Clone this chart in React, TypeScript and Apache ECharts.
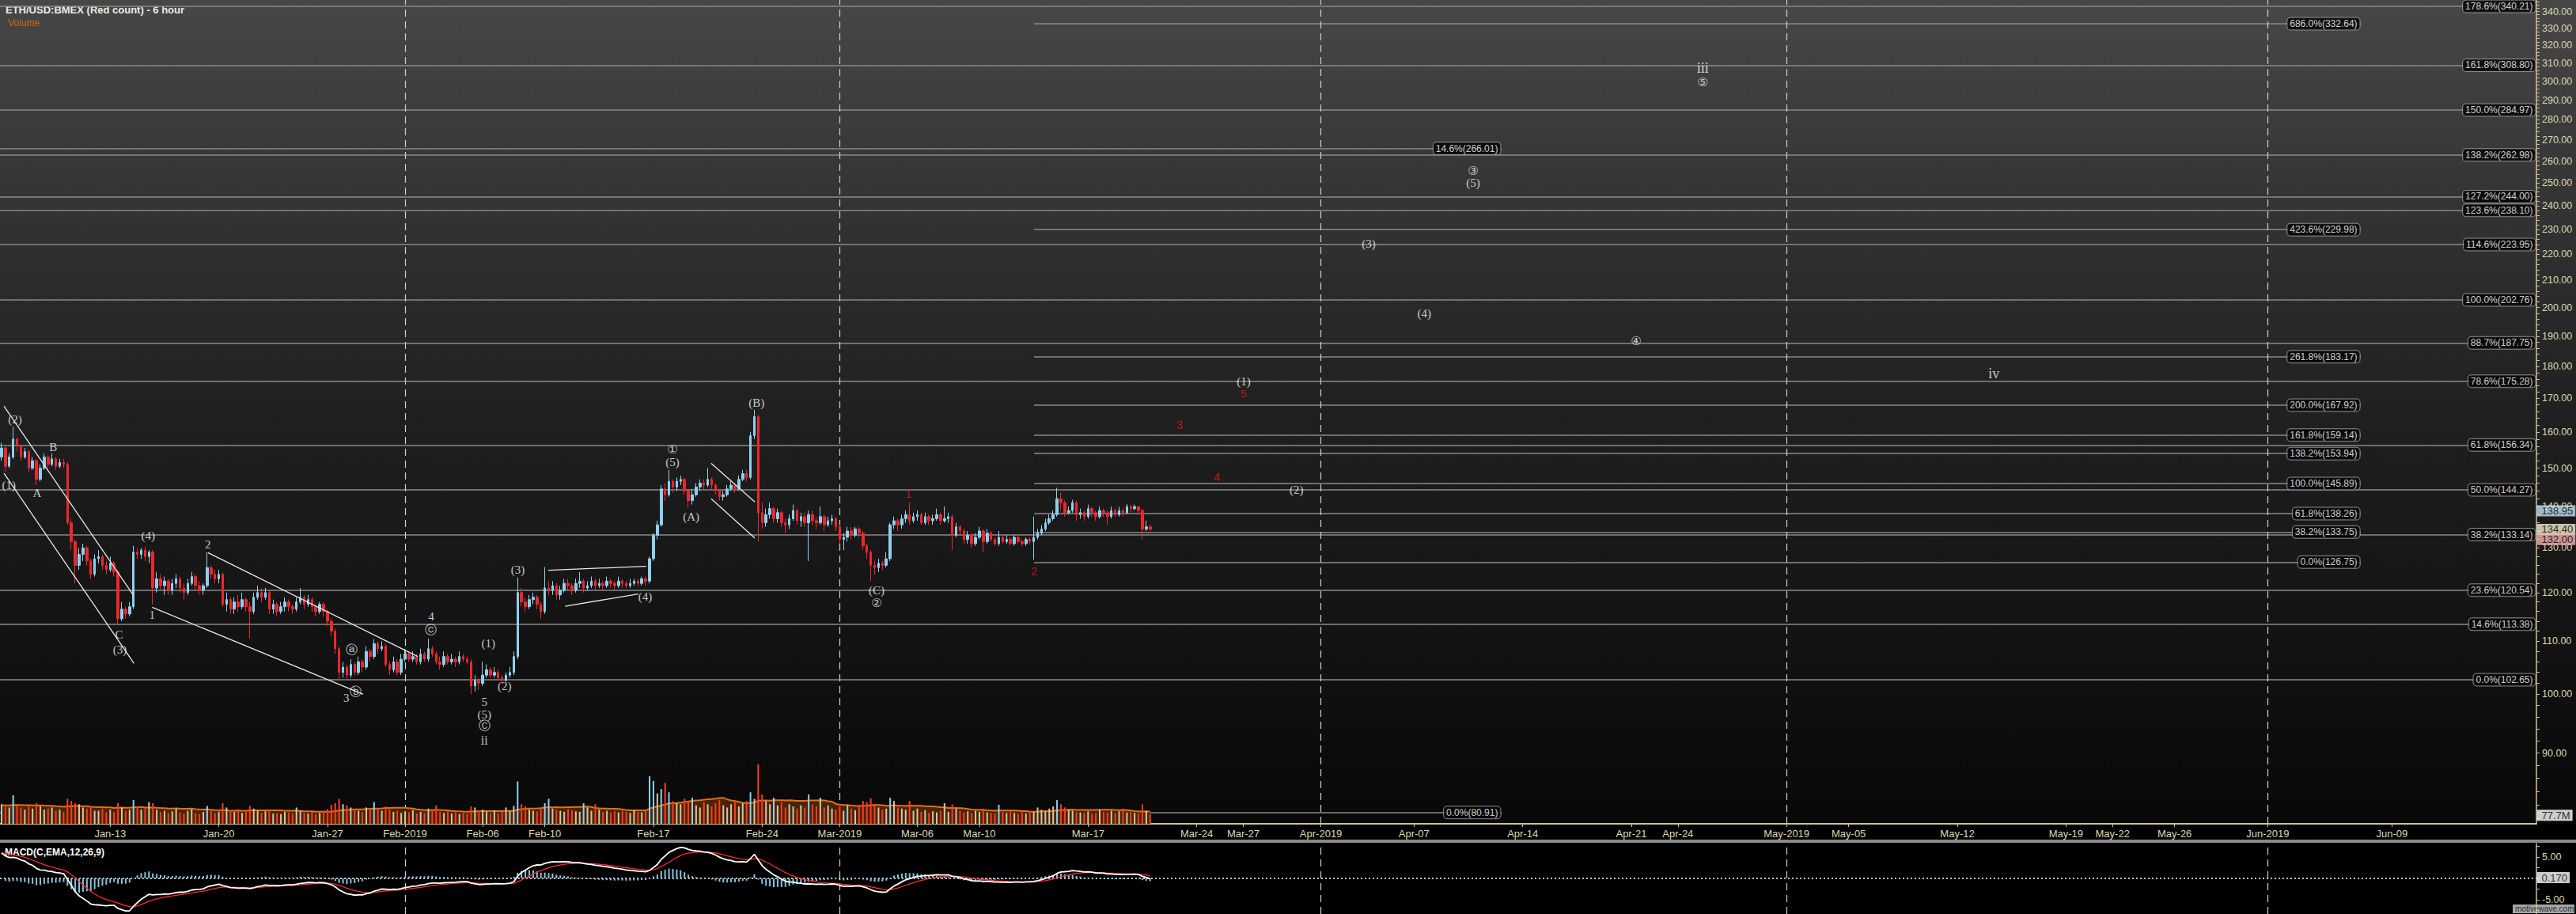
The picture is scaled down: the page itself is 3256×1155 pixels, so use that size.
import React, { useEffect, useRef } from "react";
import * as echarts from "echarts";

const WIDTH = 3256;
const HEIGHT = 1155;

// ---------------- data ----------------
const BAR_START = "2019-01-06T00:00";
const BAR_HOURS = 6;
const FIRST_OPEN = 153;

const closes = [
  155.5,150.5,153,158,156,153,154.5,150,152,147,
  150,153,151,152.5,150.5,151.5,151,136,131.5,126,
  128.5,130,127,124,127.5,128,126,125,126.5,124.5,
  114.5,116.5,115.5,117,129,128.5,129.5,128,129,121,
  123,121.5,122.5,120.5,122,123,121,120,122,123.5,
  121.5,120.5,121.5,125.5,124,123,124,117.5,118.5,116.5,
  118,117,118.5,117,116,119,120,119,120,116.5,
  117.5,116,117,118,117,116.5,118,119,117.5,118.5,
  117,116,117.5,116,114,112,108.5,104,105,103.5,
  105.5,104,106,105,108,107,109.5,108.5,109,105.5,
  104.5,106,104,106.5,107.5,106.5,107,106,107.5,106.5,
  108.5,107.5,106,105.5,107,106,106.5,106,107,106.5,
  106,101.5,102.5,102,103.5,104.5,103.5,104,103,102.5,
  103.5,104,107,120,118,117,118.5,119,117.5,116,
  121,120.5,121.5,119.5,120.5,122,121.5,120.5,122,122.5,
  121,121.5,122.5,121.5,122,121.5,122.5,122,121.5,122.5,
  122,121.5,122,122.5,122,123,122.5,127.5,133,135.5,
  144.5,143,146.5,145,146.5,147,144,141.5,143,145,
  146,145.5,147,145.5,144,142.5,143,144.5,145.5,144.5,
  147,148.5,147.5,159,164.5,138.5,136,138,139.5,137,
  138.5,136,135.5,137,139,136.5,137.5,136,138,136.5,
  136,137.5,135.5,136.5,137,135,132,132.5,134,133,
  134.5,133.5,130.5,129,126,125.5,126.5,126,127.5,135.5,
  136.5,135.5,137,138,136.5,137.5,138,136,137.5,136.5,
  137,138,136.5,137,137.5,133,135,134,132,133,
  131,132.5,134,131.5,133.5,132,131,132.5,131.5,132,
  131,132.5,131.5,131,132,131.5,132.5,133.5,134.5,136,
  137,138,142,141,138.5,139,141,138,138.5,137.5,
  139.5,138.5,137.5,139,138.5,137.5,139,138,139,138.5,
  140,139.5,140,139,134.5,135,134.4,
];

const highs = [
  157,156,154,161.5,158.5,156.5,155.5,155,153,152.5,
  151,154,153.5,154,153,152.5,152.5,151.5,137,132,
  130,131,130.5,127.5,128.5,129.5,128.5,127,128,127,
  125,118,117,118,130.5,130,130,130.3,129.5,129.5,
  124.5,124,123.5,123,123,124,123.5,122,123,124.5,
  124,122.5,122,129,126,125,125,124.5,120,119,
  119,119.5,120,119,118,120,121.5,121,121,120.5,
  118.5,118,118,119,118.5,117.5,119,121,119.5,119.5,
  119,117.5,118,118,116.5,114.5,112.5,109,106,105.5,
  106.5,106,107,106.5,109,108.5,110.4,110,110,109.5,
  106,107,106.5,107.5,108.5,108,108,107.5,108.5,108,
  110.5,109,108,107,108,107.5,107.5,107,108,107.5,
  107,106.5,103.5,103,106,105.5,105,105,104.5,103.5,
  104,105,108,123.3,121,119,119.5,120,119.5,118,
  125.6,122.5,122.5,122,121.5,123,123,122,123,124.5,
  123,122.5,123.5,123,123,122.5,123.5,123,122.5,123.5,
  123,122.5,123,123,123,123.5,123.5,128,133.5,136.5,
  145.5,146,149.5,147,147.5,148,147.5,144.5,144.5,146,
  147,147,150,147.5,146,144.5,144,145.5,146.5,146,
  148,149.5,149.5,160,166.5,165,141,139.5,141,140,
  139.5,139,137,138,140.5,139.5,138.5,138.5,139,139,
  137.5,140,138,137.5,138,137.5,135.5,133.5,135,135,
  135,135,134,131,129.5,127,127.5,127,129,136,
  137.5,137,138,139,141,138.5,139,138.5,138.5,138,
  138,139.5,138.5,140,138.5,138,136,135.5,134.5,134,
  133.5,133.5,135,134.5,134.5,134,132.5,134,133,133,
  132.5,133,133,132,132.5,132.5,137.5,134.5,135.5,137,
  138,139,144.8,143.5,141.5,140,141.7,141.5,139.5,139,
  140.5,140,139,140,139.5,139,140,139.5,140,139.5,
  140.7,140.5,140.5,140,139.5,136.5,135.5,
];

const lows = [
  152,149,150,152.5,154.5,152,152.5,149,149.5,145.5,
  146.5,149.5,150,150.5,149.5,150,150,135.5,129.5,122,
  125,127,126,123,123.5,126.5,125,124,124.5,123.5,
  113.3,114,114.5,115,116.5,127.5,127.5,127,126.5,117.5,
  120,120.5,119.5,119.5,119.5,121,120,118.5,119.5,121.5,
  120.5,119.5,119.5,121,123,122,122,117,116,115.5,
  115.5,116,116.5,116,110.5,115.5,118.5,118,118.5,115.5,
  115.5,115,115.5,116,116,115.5,116,117.5,116.5,117,
  116,115,115.5,115,113,111,107.5,102.5,103,102.8,
  103,103.5,103.5,104,104.5,106,106.5,107.5,108,105,
  103.5,104,103.5,103.5,106,106,106,105.5,105.5,106,
  106,107,105.5,104.5,105,105.5,105.5,105,105.5,106,
  105.5,100,100.5,100.8,101.5,103,103,103,102.5,102,
  102.3,103,103.5,106.5,117,116,116.5,117.5,116.5,114.5,
  115.5,119.5,119.5,118.5,118.5,120,120.5,119.5,120,121,
  120,120.5,121,120.5,121,120.5,121,121,120.5,121,
  121,121,121,121.5,121.3,121.5,121.5,122,127,132,
  135,141.5,142.5,143.5,144,145.5,143,139.8,140.5,142.5,
  144,144.5,145,144.5,143,141.5,141.5,142.5,144,143.5,
  144,146.5,146.5,147,158,131.5,134.5,135,137,136,
  136,135,133.5,134.5,136.5,135.5,135,135,127,135.5,
  134.5,135.5,134,135,135.5,134,131,129.5,131.5,132,
  132.5,132.5,129.5,127.5,122.5,124,124.5,125,125.5,127,
  134.5,134,134.5,136,135.5,136,136.5,135.5,135.5,135.5,
  135.5,136.5,135.5,136,136,129.5,132.5,133,131,131,
  130,130.5,132,129,131,131.5,130.5,130.5,131,131,
  130.5,130.5,131,130.5,130.5,130.8,127.3,132,133,134,
  135.5,136.5,137.5,139,137.5,138,138.5,136.5,137,136.5,
  137,137.5,136.5,137,137.5,135.5,137,137.5,137.5,137.5,
  138,138.5,139,138,132,134,134,
];

// volume in millions
const volumes = [
  180,160,150,263,170,150,130,170,140,190,160,130,140,150,120,130,110,
  230,210,190,180,150,140,160,120,120,140,110,130,110,
  190,150,120,130,220,160,130,140,200,190,
  130,110,120,100,115,140,105,95,120,135,100,90,110,165,120,100,110,
  190,150,120,110,135,100,110,165,140,120,100,115,130,95,100,90,110,105,95,150,120,100,95,110,90,100,115,135,175,
  190,230,180,170,150,135,120,110,150,130,200,140,120,160,
  130,110,120,100,115,105,125,95,110,100,140,120,170,110,100,115,95,105,90,100,95,160,150,120,130,115,100,125,95,110,150,120,165,
  390,180,160,130,120,115,150,190,230,140,130,120,110,135,125,115,110,190,150,120,180,130,110,120,100,115,105,120,110,100,125,110,105,115,
  438,394,280,320,377,290,210,190,180,230,205,240,170,150,200,180,160,190,220,170,150,180,200,160,190,210,290,230,548,
  270,210,180,240,170,200,150,180,160,140,170,150,270,180,160,240,150,170,140,130,160,120,170,140,125,170,210,200,235,180,150,130,140,
  240,210,150,140,130,210,120,140,110,125,100,115,105,120,190,110,180,140,120,105,115,100,120,110,140,105,100,95,175,110,100,115,
  100,90,105,95,120,110,150,130,120,140,160,220,180,150,130,120,110,105,100,115,95,100,130,110,105,120,100,115,140,105,110,100,95,180,120,90,
];
const blueVolumeBars = [3, 34, 53, 96, 133, 140, 141, 150, 167, 168, 170, 172, 178, 193, 199, 208, 218, 229, 257, 272];
const VOLUME_MA_LEN = 20;
const VOLUME_MA_SEED = 170;
const VOLUME_TAG = 77.7;

const MACD_SEED_EMA12 = 153.0;
const MACD_SEED_EMA26 = 146.8;
const MACD_SEED_SIGNAL = 6.0;
const MACD_TAG = 0.17;

const X_MIN = "2019-01-05T21:39";
const X_MAX = "2019-06-18T07:26";
const PRICE_MIN = 79.29;
const PRICE_MAX = 347.1;
const MACD_MIN = -8.33;
const MACD_MAX = 8.15;
const VOLUME_AXIS_MAX = 700;

const dateTicks = [
  "2019-01-13","2019-01-20","2019-01-27","2019-02-01","2019-02-06","2019-02-10","2019-02-17","2019-02-24",
  "2019-03-01","2019-03-06","2019-03-10","2019-03-17","2019-03-24","2019-03-27","2019-04-01","2019-04-07",
  "2019-04-14","2019-04-21","2019-04-24","2019-05-01","2019-05-05","2019-05-12","2019-05-19","2019-05-22",
  "2019-05-26","2019-06-01","2019-06-09",
];
const dateTickLabels = [
  "Jan-13","Jan-20","Jan-27","Feb-2019","Feb-06","Feb-10","Feb-17","Feb-24",
  "Mar-2019","Mar-06","Mar-10","Mar-17","Mar-24","Mar-27","Apr-2019","Apr-07",
  "Apr-14","Apr-21","Apr-24","May-2019","May-05","May-12","May-19","May-22",
  "May-26","Jun-2019","Jun-09",
];
const monthStarts = ["2019-02-01", "2019-03-01", "2019-04-01", "2019-05-01", "2019-06-01"];

const priceLabelValues = [90,100,110,120,130,140,150,160,170,180,190,200,210,220,230,240,250,260,270,280,290,300,310,320,330,340];
const priceTickValues = [
  80,82,84,86,88,90,92,94,96,98,100,102,104,106,108,110,112,114,116,118,120,122,124,126,128,130,
  132,134,136,138,140,142,144,146,148,150,152,154,156,158,160,162,164,166,168,170,172,174,176,178,180,
  182,184,186,188,190,192,194,196,198,200,202,204,206,208,210,212,214,216,218,220,222,224,226,228,230,
  232,234,236,238,240,242,244,246,248,250,252,254,256,258,260,262,264,266,268,270,272,274,276,278,280,
  282,284,286,288,290,292,294,296,298,300,302,304,306,308,310,312,314,316,318,320,322,324,326,328,330,
  332,334,336,338,340,342,344,346,
];
const macdLabelValues = [-5, 5];
const macdTickValues = [-7.5, -5, -2.5, 0, 2.5, 5, 7.5];

// Fibonacci tools: [label, price level]
const fibMainLevels: [string, number][] = [
  ["178.6%(340.21)", 343.2],
  ["161.8%(308.80)", 308.8],
  ["150.0%(284.97)", 284.97],
  ["138.2%(262.98)", 262.98],
  ["127.2%(244.00)", 244.0],
  ["123.6%(238.10)", 238.1],
  ["114.6%(223.95)", 223.95],
  ["100.0%(202.76)", 202.76],
  ["88.7%(187.75)", 187.75],
  ["78.6%(175.28)", 175.28],
  ["61.8%(156.34)", 156.34],
  ["50.0%(144.27)", 144.27],
  ["38.2%(133.14)", 133.14],
  ["23.6%(120.54)", 120.54],
  ["14.6%(113.38)", 113.38],
  ["0.0%(102.65)", 102.65],
];
const fibMainStart = X_MIN;
const fibMainEnd = X_MAX;

const fibExtLevels: [string, number][] = [
  ["686.0%(332.64)", 332.64],
  ["423.6%(229.98)", 229.98],
  ["261.8%(183.17)", 183.17],
  ["200.0%(167.92)", 167.92],
  ["161.8%(159.14)", 159.14],
  ["138.2%(153.94)", 153.94],
  ["100.0%(145.89)", 145.89],
  ["61.8%(138.26)", 138.26],
  ["38.2%(133.75)", 133.75],
  ["0.0%(126.75)", 126.75],
];
const fibExtStart = "2019-03-13T12:30";
const fibExtEnd = "2019-06-07T00:00";

const fibWideLevels: [string, number][] = [
  ["14.6%(266.01)", 266.01],
  ["0.0%(80.91)", 80.91],
];
const fibWideStart = X_MIN;
const fibWideEnd = "2019-04-12T15:22";

// price tags on the right axis: [value, background]
const priceTags: [number, string][] = [
  [138.95, "#bfe3f5"],
  [134.4, "#f4efcf"],
  [132.0, "#f5b5b5"],
];

// Elliott wave labels: [time, price, text, colour kind, size]
const waveLabels: [string, number, string, string, number][] = [
  ["2019-01-06T20:45", 163.7, "(2)", "w", 15],
  ["2019-01-09T07:58", 155.8, "B", "w", 15],
  ["2019-01-06T11:21", 145.4, "(1)", "w", 15],
  ["2019-01-08T07:02", 143.5, "A", "w", 15],
  ["2019-01-13T13:45", 111.3, "C", "w", 15],
  ["2019-01-13T14:59", 108.3, "(3)", "w", 15],
  ["2019-01-15T10:38", 132.8, "(4)", "w", 15],
  ["2019-01-15T16:52", 115.3, "1", "w", 15],
  ["2019-01-19T07:08", 130.9, "2", "w", 15],
  ["2019-01-28T05:11", 99.4, "3", "w", 15],
  ["2019-01-28T13:52", 108.4, "ⓐ", "w", 15],
  ["2019-01-28T20:07", 100.5, "ⓑ", "w", 15],
  ["2019-02-02T16:12", 114.9, "4", "w", 15],
  ["2019-02-02T16:12", 112.2, "ⓒ", "w", 15],
  ["2019-02-06T02:31", 98.7, "5", "w", 15],
  ["2019-02-06T02:31", 96.5, "(5)", "w", 15],
  ["2019-02-06T02:31", 94.6, "Ⓒ", "w", 15],
  ["2019-02-06T02:31", 92.1, "ii", "w", 16],
  ["2019-02-06T08:46", 109.5, "(1)", "w", 15],
  ["2019-02-07T09:50", 101.5, "(2)", "w", 15],
  ["2019-02-08T06:22", 125.0, "(3)", "w", 15],
  ["2019-02-16T11:21", 119.2, "(4)", "w", 15],
  ["2019-02-18T05:25", 155.1, "①", "w", 15],
  ["2019-02-18T05:25", 151.7, "(5)", "w", 15],
  ["2019-02-19T10:25", 137.4, "(A)", "w", 15],
  ["2019-02-23T15:26", 168.6, "(B)", "w", 15],
  ["2019-03-03T09:00", 120.5, "(C)", "w", 15],
  ["2019-03-03T09:00", 117.8, "②", "w", 15],
  ["2019-03-05T10:10", 143.4, "1", "r", 15],
  ["2019-03-13T12:33", 124.7, "2", "r", 15],
  ["2019-03-22T21:30", 162.1, "3", "r", 15],
  ["2019-03-25T07:22", 147.7, "4", "r", 15],
  ["2019-03-27T00:29", 175.2, "(1)", "w", 15],
  ["2019-03-27T00:29", 171.3, "5", "r", 13],
  ["2019-03-30T10:18", 144.2, "(2)", "w", 15],
  ["2019-04-04T01:55", 224.2, "(3)", "w", 15],
  ["2019-04-07T15:50", 197.9, "(4)", "w", 15],
  ["2019-04-10T19:26", 255.6, "③", "w", 15],
  ["2019-04-10T19:26", 250.2, "(5)", "w", 15],
  ["2019-04-21T07:26", 188.4, "④", "w", 15],
  ["2019-04-25T14:24", 307.3, "iii", "w", 18],
  ["2019-04-25T14:24", 299.4, "⑤", "w", 15],
  ["2019-05-14T08:38", 177.6, "iv", "w", 18],
];

// Trend / channel lines: [startTime, startPrice, endTime, endPrice]
const trendLines: [string, number, string, number][] = [
  ["2019-01-06T03:53", 167.6, "2019-01-14T11:40", 119.5],
  ["2019-01-06T03:53", 148.6, "2019-01-14T12:53", 105.7],
  ["2019-01-19T07:08", 128.9, "2019-02-01T19:31", 107.0],
  ["2019-01-15T16:52", 116.9, "2019-01-29T07:08", 100.0],
  ["2019-02-10T05:14", 124.9, "2019-02-16T12:58", 125.8],
  ["2019-02-11T07:26", 117.1, "2019-02-16T00:29", 119.7],
  ["2019-02-20T17:17", 151.3, "2019-02-23T12:43", 141.2],
  ["2019-02-20T17:17", 142.0, "2019-02-23T12:43", 132.3],
];

// ---------------- helpers ----------------
const SANS = "'Liberation Sans', Arial, sans-serif";
const SERIF = "'Liberation Serif', 'Times New Roman', 'DejaVu Sans', serif";
const L = (p: number) => Math.log(p);
const T = (s: string) => Date.parse(s.length <= 10 ? s + "T00:00:00Z" : s + ":00Z");

const UP = "#8fd0ee";
const DOWN = "#f0262c";
const AXIS_COL = "#c9c3a0";
const AXIS_TXT = "#dcd6b0";
const FIB_COL = "#8a8a8a";

function buildOption() {
  const barMs = BAR_HOURS * 3600 * 1000;
  const t0 = T(BAR_START);
  const xMin = T(X_MIN);
  const xMax = T(X_MAX);
  const times = closes.map((_, i) => t0 + i * barMs);
  const opens = closes.map((_, i) => (i === 0 ? FIRST_OPEN : closes[i - 1]));

  const candleData = closes.map((c, i) => {
    const o = opens[i];
    const h = Math.max(highs[i], o, c);
    const l = Math.min(lows[i], o, c);
    return [times[i], L(o), L(c), L(l), L(h)];
  });

  const blueSet = new Set(blueVolumeBars);
  const volData = volumes.map((v, i) => ({
    value: [times[i], v],
    itemStyle: {
      color: blueSet.has(i) ? "#8fd0ee" : closes[i] >= opens[i] ? "#cfc7aa" : "#ff3b22",
    },
  }));
  const volMA = volumes.map((_, i) => {
    let s = 0;
    for (let k = i - VOLUME_MA_LEN + 1; k <= i; k++) s += k >= 0 ? volumes[k] : VOLUME_MA_SEED;
    return [times[i], s / VOLUME_MA_LEN];
  });

  let e12 = MACD_SEED_EMA12;
  let e26 = MACD_SEED_EMA26;
  let sig = MACD_SEED_SIGNAL;
  const macdLine: number[][] = [];
  const sigLine: number[][] = [];
  const hist: number[][] = [];
  closes.forEach((c, i) => {
    e12 += ((c - e12) * 2) / 13;
    e26 += ((c - e26) * 2) / 27;
    const m = e12 - e26;
    sig += ((m - sig) * 2) / 10;
    macdLine.push([times[i], m]);
    sigLine.push([times[i], sig]);
    hist.push([times[i], m - sig]);
  });

  const labelMap = new Map<number, string>();
  dateTicks.forEach((d, i) => labelMap.set(T(d), dateTickLabels[i]));
  const dateTickTs = dateTicks.map(T);

  const boxLabel = (text: string) => ({
    show: true,
    position: "left",
    distance: 1,
    formatter: text,
    color: "#ffffff",
    fontSize: 12,
    fontFamily: SANS,
    backgroundColor: "#000000",
    borderColor: "#a0a0a0",
    borderWidth: 1,
    borderRadius: 4,
    padding: [2, 3, 1, 3],
  });

  const fibBoxData: any[] = [];
  const fibLineData: any[] = [];
  const addFib = (levels: [string, number][], s: string, e: string) => {
    levels.forEach(([txt, p]) => {
      fibLineData.push([{ coord: [T(s), L(p)] }, { coord: [T(e), L(p)] }]);
      fibBoxData.push({ value: [T(e), L(p)], label: boxLabel(txt) });
    });
  };
  addFib(fibMainLevels, fibMainStart, fibMainEnd);
  addFib(fibExtLevels, fibExtStart, fibExtEnd);
  addFib(fibWideLevels, fibWideStart, fibWideEnd);

  const monthLines = monthStarts.map((d) => ({
    xAxis: T(d),
    lineStyle: { color: "#cfcfcf", type: [9, 6], width: 1.2 },
  }));

  const waveData = waveLabels.map(([d, p, txt, kind, size]) => ({
    value: [T(d), L(p)],
    label: {
      show: true,
      position: "inside",
      formatter: txt,
      color: kind === "r" ? "#e0141a" : "#f4f4f4",
      fontSize: size,
      fontFamily: kind === "r" ? SANS : SERIF,
      textBorderWidth: 0,
      textShadowBlur: 0,
    },
  }));

  const trendData = trendLines.map(([s, p1, e, p2]) => [
    { coord: [T(s), L(p1)] },
    { coord: [T(e), L(p2)] },
  ]);

  const tagData = priceTags.map(([v, bg]) => ({
    value: [xMax, L(v)],
    label: {
      show: true,
      position: "right",
      distance: 0,
      formatter: v.toFixed(2),
      color: "#000",
      fontSize: 13,
      fontFamily: SANS,
      backgroundColor: bg,
      padding: [1, 3, 0, 6],
    },
  }));

  const hiddenX = (gi: number) => ({
    type: "value",
    gridIndex: gi,
    min: xMin,
    max: xMax,
    show: false,
    splitLine: { show: false },
  });

  return {
    animation: false,
    color: ["#ffffff"],
    backgroundColor: "transparent",
    grid: [
      { left: 0, right: WIDTH - 3206, top: 0, height: 1041 },
      { left: 0, right: WIDTH - 3206, top: 945, height: 96 },
      { left: 0, right: WIDTH - 3206, top: 1066, height: 89 },
    ],
    xAxis: [
      {
        type: "value",
        gridIndex: 0,
        min: xMin,
        max: xMax,
        axisLine: { show: true, lineStyle: { color: AXIS_COL, width: 2 } },
        axisTick: { show: true, customValues: dateTickTs, length: 4, lineStyle: { color: AXIS_COL } },
        axisLabel: {
          customValues: dateTickTs,
          formatter: (v: number) => labelMap.get(v) ?? "",
          color: AXIS_TXT,
          fontSize: 13,
          fontFamily: SANS,
          margin: 6,
          hideOverlap: false,
        },
        splitLine: { show: false },
      },
      hiddenX(1),
      hiddenX(2),
    ],
    yAxis: [
      {
        type: "value",
        gridIndex: 0,
        position: "right",
        min: L(PRICE_MIN),
        max: L(PRICE_MAX),
        axisLine: { show: true, lineStyle: { color: AXIS_COL, width: 1.5 } },
        axisTick: { show: true, customValues: priceTickValues.map(L), length: 4, lineStyle: { color: AXIS_COL } },
        axisLabel: {
          customValues: priceLabelValues.map(L),
          formatter: (v: number) => Math.exp(v).toFixed(2),
          color: AXIS_TXT,
          fontSize: 12.5,
          fontFamily: SANS,
          margin: 7,
        },
        splitLine: { show: false },
      },
      { type: "value", gridIndex: 1, min: 0, max: VOLUME_AXIS_MAX, show: false, splitLine: { show: false } },
      {
        type: "value",
        gridIndex: 2,
        position: "right",
        min: MACD_MIN,
        max: MACD_MAX,
        axisLine: { show: true, lineStyle: { color: AXIS_COL, width: 1.5 } },
        axisTick: { show: true, customValues: macdTickValues, length: 4, lineStyle: { color: AXIS_COL } },
        axisLabel: {
          customValues: macdLabelValues,
          formatter: (v: number) => v.toFixed(2),
          color: AXIS_TXT,
          fontSize: 12.5,
          fontFamily: SANS,
          margin: 7,
        },
        splitLine: { show: false },
      },
    ],
    series: [
      {
        name: "fibLines",
        type: "scatter",
        xAxisIndex: 0,
        yAxisIndex: 0,
        data: fibBoxData,
        symbol: "circle",
        symbolSize: 1,
        itemStyle: { color: "rgba(0,0,0,0)" },
        clip: false,
        silent: true,
        z: 10,
        markLine: {
          silent: true,
          symbol: "none",
          z: 1,
          label: { show: false },
          lineStyle: { color: FIB_COL, width: 1.5, type: "solid" },
          data: [...fibLineData, ...monthLines],
        },
      },
      {
        name: "volumeMA",
        type: "line",
        xAxisIndex: 1,
        yAxisIndex: 1,
        data: volMA,
        symbol: "none",
        lineStyle: { color: "#e8700c", width: 2 },
        areaStyle: { color: "#4a2406", opacity: 1, origin: "start" },
        z: 1,
        silent: true,
      },
      {
        name: "volume",
        type: "bar",
        xAxisIndex: 1,
        yAxisIndex: 1,
        data: volData,
        barWidth: 2,
        z: 2,
        silent: true,
      },
      {
        name: "volumeTag",
        type: "scatter",
        xAxisIndex: 1,
        yAxisIndex: 1,
        clip: false,
        symbolSize: 1,
        itemStyle: { color: "rgba(0,0,0,0)" },
        data: [
          {
            value: [xMax, VOLUME_TAG],
            label: {
              show: true,
              position: "right",
              distance: 0,
              formatter: VOLUME_TAG.toFixed(1) + "M",
              color: "#000",
              fontSize: 13,
              fontFamily: SANS,
              backgroundColor: "#ffffff",
              padding: [1, 3, 0, 6],
            },
          },
        ],
        z: 12,
      },
      {
        name: "price",
        type: "candlestick",
        xAxisIndex: 0,
        yAxisIndex: 0,
        data: candleData,
        encode: { x: 0, y: [1, 2, 3, 4] },
        barWidth: 3,
        itemStyle: { color: UP, color0: DOWN, borderColor: UP, borderColor0: DOWN, borderWidth: 1 },
        z: 3,
        silent: true,
      },
      {
        name: "waves",
        type: "scatter",
        xAxisIndex: 0,
        yAxisIndex: 0,
        data: waveData,
        symbol: "circle",
        symbolSize: 1,
        itemStyle: { color: "rgba(0,0,0,0)" },
        clip: false,
        silent: true,
        z: 20,
        markLine: {
          silent: true,
          symbol: "none",
          z: 6,
          label: { show: false },
          lineStyle: { color: "#e8e8e8", width: 1.3, type: "solid" },
          data: trendData,
        },
      },
      {
        name: "priceTags",
        type: "scatter",
        xAxisIndex: 0,
        yAxisIndex: 0,
        data: tagData,
        symbolSize: 1,
        itemStyle: { color: "rgba(0,0,0,0)" },
        clip: false,
        silent: true,
        z: 14,
      },
      {
        name: "hist",
        type: "bar",
        xAxisIndex: 2,
        yAxisIndex: 2,
        data: hist,
        barWidth: 2,
        itemStyle: { color: "#86c4dd" },
        z: 2,
        silent: true,
        markLine: {
          silent: true,
          symbol: "none",
          z: 1,
          label: { show: false },
          data: [
            { yAxis: 0, lineStyle: { color: "#ffffff", type: [2, 3], width: 1.5 } },
            ...monthLines,
          ],
        },
      },
      {
        name: "signal",
        type: "line",
        xAxisIndex: 2,
        yAxisIndex: 2,
        data: sigLine,
        symbol: "none",
        lineStyle: { color: "#ff2a2a", width: 1.3 },
        z: 3,
        silent: true,
      },
      {
        name: "macd",
        type: "line",
        xAxisIndex: 2,
        yAxisIndex: 2,
        data: macdLine,
        symbol: "none",
        lineStyle: { color: "#ffffff", width: 1.8 },
        z: 4,
        silent: true,
      },
      {
        name: "macdTag",
        type: "scatter",
        xAxisIndex: 2,
        yAxisIndex: 2,
        clip: false,
        symbolSize: 1,
        itemStyle: { color: "rgba(0,0,0,0)" },
        data: [
          {
            value: [xMax, MACD_TAG],
            label: {
              show: true,
              position: "right",
              distance: 0,
              formatter: MACD_TAG.toFixed(3),
              color: "#000",
              fontSize: 13,
              fontFamily: SANS,
              backgroundColor: "#ffffff",
              padding: [1, 3, 0, 6],
            },
          },
        ],
        z: 12,
      },
    ],
    graphic: [
      { type: "rect", left: 0, top: 1061, shape: { width: WIDTH, height: 4 }, style: { fill: "#8a8a8a" }, silent: true },
      {
        type: "text",
        left: 7,
        top: 6,
        style: { text: "ETH/USD:BMEX (Red count) - 6 hour", fill: "#ecece4", font: `bold 13px ${SANS}` },
        silent: true,
      },
      { type: "text", left: 10, top: 23, style: { text: "Volume", fill: "#d2640e", font: `12px ${SANS}` }, silent: true },
      { type: "text", left: 4, top: 1022, style: { text: "MotiveWave", fill: "#9a9a9a", font: `13px ${SANS}` }, silent: true },
      {
        type: "text",
        left: 5,
        top: 1070,
        style: {
          text: "MACD(C,EMA,12,26,9)",
          fill: "#ffffff",
          font: `bold 12px ${SANS}`,
          stroke: "#000",
          lineWidth: 2,
        },
        silent: true,
      },
      { type: "rect", left: 3176, top: 1143, shape: { width: 78, height: 11 }, style: { fill: "#a4a4a4" }, silent: true },
      {
        type: "text",
        left: 3179,
        top: 1143,
        style: { text: "motivewave.com", fill: "#303030", font: `10px ${SANS}` },
        silent: true,
      },
    ],
  };
}

export default function App() {
  const ref = useRef<HTMLDivElement | null>(null);
  useEffect(() => {
    document.body.style.margin = "0";
    document.body.style.background = "#000";
    if (!ref.current) return;
    const chart = echarts.init(ref.current, undefined, { renderer: "svg" });
    chart.setOption(buildOption() as any);
    return () => chart.dispose();
  }, []);
  return (
    <div
      ref={ref}
      style={{
        width: WIDTH,
        height: HEIGHT,
        background:
          "linear-gradient(to bottom, #474747 0px, #202020 520px, #080808 1041px, #000000 1041px, #000000 100%)",
      }}
    />
  );
}
